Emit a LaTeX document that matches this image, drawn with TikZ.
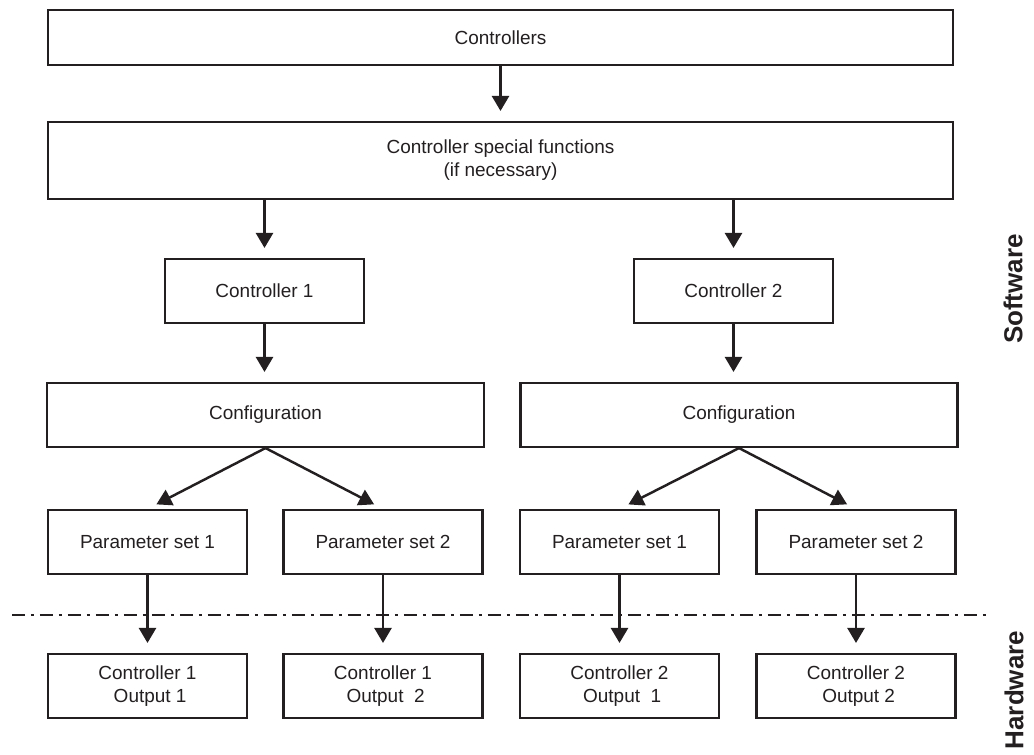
\documentclass[tikz,border=0pt]{standalone}
\usepackage{fontspec}
\setmainfont{Liberation Sans}
\usetikzlibrary{arrows.meta}
\definecolor{ink}{HTML}{231F20}

\begin{document}
\begin{tikzpicture}[x=0.02cm, y=-0.02cm, font=\fontsize{10.8}{13}\selectfont, draw=ink, text=ink,
  blk/.style={draw, line width=1.2pt, minimum height=1.28cm, inner sep=0pt, align=center},
  flow/.style={-{Triangle[length=0.3cm, width=0.34cm]}, line width=1.4pt, shorten >=0.2cm},
  side/.style={font=\fontsize{14.8}{16}\selectfont\bfseries, rotate=90}]
  \useasboundingbox (0,0) rectangle (1034,754);
  % --- software / hardware border ---
  \coordinate (bl) at (12,615);
  \coordinate (br) at (991,615);
  \draw[line width=1.5pt, dash pattern=on 0.26cm off 0.12cm on 0.06cm off 0.12cm] (bl) -- (br);
  % --- top level ---
  \node[blk, minimum width=18.1cm, minimum height=1.1cm] (ctrls) at (500.5,37.5) {Controllers};
  \node[blk, minimum width=18.1cm, minimum height=1.54cm] (spec) at (500.5,160.5) {Controller special functions\\(if necessary)};
  \draw[flow] (ctrls) -- (spec);
  % --- controllers and configurations ---
  \foreach \i/\x/\cx in {1/264.5/265.5, 2/733.5/739}{
    \node[blk, minimum width=3.98cm] (c\i) at (\x,291) {Controller \i};
    \node[blk, minimum width=8.74cm] (cfg\i) at (\cx,415) {Configuration};
    \draw[flow] (spec.south -| c\i) -- (c\i);
    \draw[flow] (c\i) -- (c\i |- cfg\i.north);
  }
  % --- parameter sets and outputs ---
  \foreach \j/\x/\ctl/\ps/\op in {1/147.5/1/1/{~1}, 2/383/1/2/{~~2}, 3/619.5/2/1/{~~1}, 4/856/2/2/{~2}}{
    \node[blk, minimum width=3.98cm] (p\j) at (\x,542) {Parameter set \ps};
    \node[blk, minimum width=3.98cm] (o\j) at (\x,686) {Controller \ctl\\~Output\op};
    \draw[flow] (cfg\ctl.south) -- (p\j.north);
    \draw[flow] (p\j) -- (o\j);
  }
  % --- side labels ---
  \node[side] (sw) at (1013,289) {Software};
  \node[side] (hw) at (1014,690) {Hardware};
\end{tikzpicture}
\end{document}
